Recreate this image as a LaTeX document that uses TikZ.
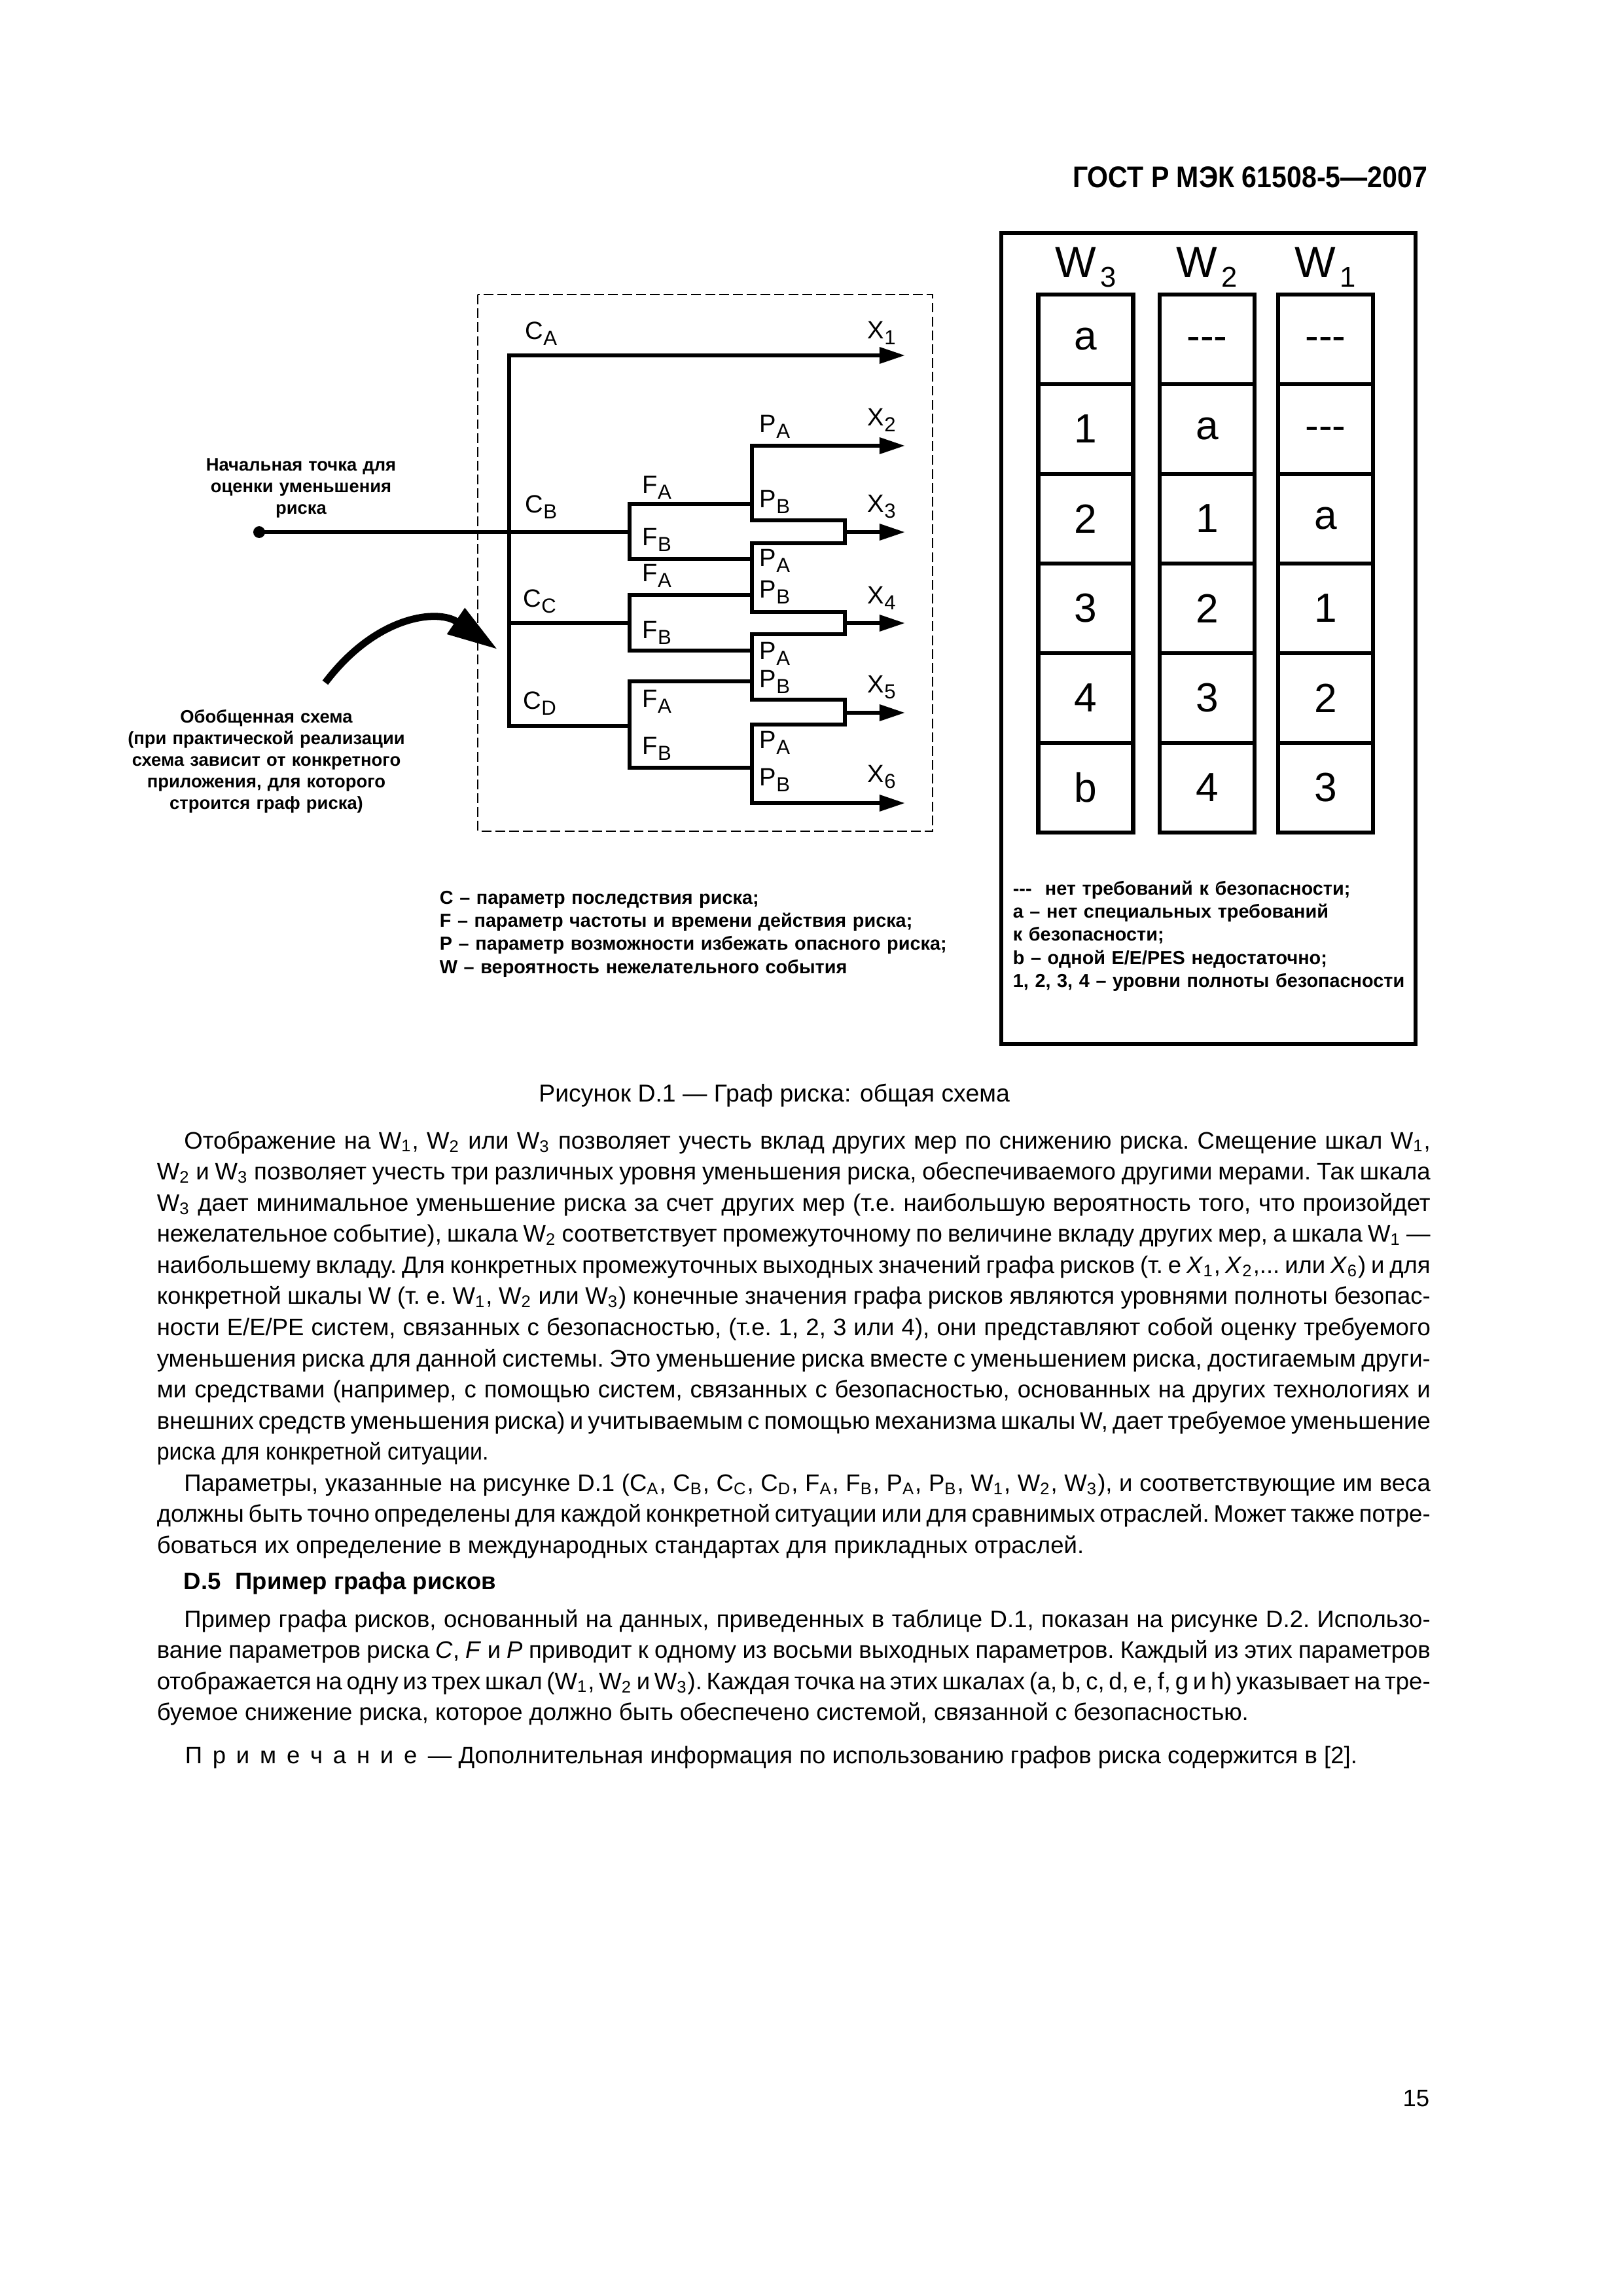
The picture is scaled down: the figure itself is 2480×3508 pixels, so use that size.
\documentclass[tikz,border=0pt]{standalone}
\usepackage{fontspec}
\setmainfont{Liberation Sans}
\newfontfamily\hdrfont{Liberation Sans}[FakeStretch=0.9]
\usetikzlibrary{arrows.meta}
\newcommand\sbs[1]{\textsubscript{#1}}
\newcommand\lb[2]{#1\raisebox{-2.4pt}{\fontsize{7.5}{7.5}\selectfont #2}}
\newcommand\wh[1]{W\hspace{1.5pt}\raisebox{-3.8pt}{\fontsize{10.5}{10.5}\selectfont #1}}
\newcommand\jline[1]{\noindent\hbox to 164.76mm{#1}\par}
\newcommand\nline[1]{\noindent\hbox{#1}\par}
\newcommand\bodyfont{\fontsize{8.8}{11.46}\selectfont\frenchspacing\spaceskip=0.278em plus 0.6em minus 0.12em\xspaceskip=\spaceskip\parskip=0pt\relax}
\newcommand\dsh{\mbox{-}\mbox{-}\mbox{-}}
\newcommand\cdsh{\vphantom{a}\dsh}
\newcommand\lsp{\hspace{3.8pt}}
\tikzset{
  wire/.style={line width=1.5pt},
  outarr/.style={-{Triangle[length=9.4pt,width=5.8pt]}},
  plab/.style={anchor=base west, inner sep=0pt, font=\fontsize{9.2}{9.2}\selectfont},
  cellbox/.style={draw, line width=1.5pt, minimum width=12.28mm, minimum height=11.6mm, inner sep=0pt, font=\fontsize{15}{15}\selectfont},
  whead/.style={anchor=base, inner sep=0pt, font=\fontsize{16}{16}\selectfont},
  annot/.style={anchor=base, inner sep=0pt, align=center, font=\fontsize{6.6}{7.95}\selectfont\bfseries},
  legtext/.style={anchor=base west, inner sep=0pt, align=left, font=\fontsize{6.95}{8.55}\selectfont\bfseries},
  dashbox/.style={line width=0.7pt, dash pattern=on 3.6pt off 1.5pt},
  plain/.style={inner sep=0pt, font=\fontsize{8.8}{8.8}\selectfont}
}
\begin{document}
\begin{tikzpicture}[x=0.0846667mm,y=-0.0846667mm]
\fill[white] (0,0) rectangle (2480,3508);
\useasboundingbox (0,0) rectangle (2480,3508);

% header
\node[anchor=base east, inner sep=0pt, font=\hdrfont\fontsize{11}{11}\selectfont\bfseries] (hdr) at (2182,286) {ГОСТ Р МЭК 61508-5—2007};

% dashed frame
\draw[dashbox] (730,450) rectangle (1425,1270);

% coordinates
\coordinate (busA) at (778,543);
\coordinate (busC) at (778,952);
\coordinate (busD) at (778,1109);
\coordinate (fB) at (962,813);
\coordinate (fBa) at (962,770);
\coordinate (fBb) at (962,854);
\coordinate (fC) at (962,952);
\coordinate (fCa) at (962,909);
\coordinate (fCb) at (962,994);
\coordinate (fD) at (962,1109);
\coordinate (fDa) at (962,1041);
\coordinate (fDb) at (962,1173);
\coordinate (pBa) at (1149,770);
\coordinate (pBb) at (1149,854);
\coordinate (pCa) at (1149,909);
\coordinate (pCb) at (1149,994);
\coordinate (pDa) at (1149,1041);
\coordinate (pDb) at (1149,1173);
\coordinate (x1) at (1383,543);
\coordinate (x2) at (1383,681);
\coordinate (x3) at (1383,813);
\coordinate (x4) at (1383,952);
\coordinate (x5) at (1383,1089);
\coordinate (x6) at (1383,1227);
\coordinate (p2top) at (1149,681);
\coordinate (m3a) at (1149,795);
\coordinate (m3b) at (1291,795);
\coordinate (m3c) at (1291,830);
\coordinate (m3d) at (1149,830);
\coordinate (m4a) at (1149,935);
\coordinate (m4b) at (1291,935);
\coordinate (m4c) at (1291,969);
\coordinate (m4d) at (1149,969);
\coordinate (m5a) at (1149,1069);
\coordinate (m5b) at (1291,1069);
\coordinate (m5c) at (1291,1107);
\coordinate (m5d) at (1149,1107);
\coordinate (p6bot) at (1149,1227);
\coordinate (o3) at (1291,813);
\coordinate (o4) at (1291,952);
\coordinate (o5) at (1291,1089);

% start point
\node[circle, fill, inner sep=0pt, minimum size=1.52mm] (dot) at (396,813) {};

% wires
\draw[wire, outarr] (fD) -- (busD) -- (busA) -- (x1);
\draw[wire] (dot.center) -- (fB);
\draw[wire] (busC) -- (fC);
\draw[wire] (pBa) -- (fBa) -- (fBb) -- (pBb);
\draw[wire] (pCa) -- (fCa) -- (fCb) -- (pCb);
\draw[wire] (pDa) -- (fDa) -- (fDb) -- (pDb);
\draw[wire, {Triangle[length=9.4pt,width=5.8pt]}-{Triangle[length=9.4pt,width=5.8pt]}] (x2) -- (p2top) -- (m3a) -- (m3b) -- (m3c) -- (m3d) -- (m4a) -- (m4b) -- (m4c) -- (m4d) -- (m5a) -- (m5b) -- (m5c) -- (m5d) -- (p6bot) -- (x6);
\draw[wire, outarr] (o3) -- (x3);
\draw[wire, outarr] (o4) -- (x4);
\draw[wire, outarr] (o5) -- (x5);

% labels
\node[plab] (lCA) at (802,518) {\lb{C}{A}};
\node[plab] (lCB) at (802,783) {\lb{C}{B}};
\node[plab] (lCC) at (799,927) {\lb{C}{C}};
\node[plab] (lCD) at (799,1083) {\lb{C}{D}};
\node[plab] (lFAB) at (981,753) {\lb{F}{A}};
\node[plab] (lFBB) at (981,833) {\lb{F}{B}};
\node[plab] (lFAC) at (981,888) {\lb{F}{A}};
\node[plab] (lFBC) at (981,975) {\lb{F}{B}};
\node[plab] (lFAD) at (981,1080) {\lb{F}{A}};
\node[plab] (lFBD) at (981,1152) {\lb{F}{B}};
\node[plab] (lPA1) at (1160,660) {\lb{P}{A}};
\node[plab] (lPB1) at (1160,775) {\lb{P}{B}};
\node[plab] (lPA2) at (1160,865) {\lb{P}{A}};
\node[plab] (lPB2) at (1160,913) {\lb{P}{B}};
\node[plab] (lPA3) at (1160,1007) {\lb{P}{A}};
\node[plab] (lPB3) at (1160,1050) {\lb{P}{B}};
\node[plab] (lPA4) at (1160,1143) {\lb{P}{A}};
\node[plab] (lPB4) at (1160,1200) {\lb{P}{B}};
\node[plab] (lX1) at (1325,517) {\lb{X}{1}};
\node[plab] (lX2) at (1325,650) {\lb{X}{2}};
\node[plab] (lX3) at (1325,782) {\lb{X}{3}};
\node[plab] (lX4) at (1325,922) {\lb{X}{4}};
\node[plab] (lX5) at (1325,1058) {\lb{X}{5}};
\node[plab] (lX6) at (1325,1195) {\lb{X}{6}};

% annotations
\node[annot, text width=40mm] (startlbl) at (460,719) {Начальная точка для\\оценки уменьшения\\риска};
\node[annot, text width=45mm] (genlbl) at (407,1104) {Обобщенная схема\\(при практической реализации\\схема зависит от конкретного\\приложения, для которого\\строится граф риска)};
\coordinate (gstart) at (497,1043);
\coordinate (gend) at (760,992);
\draw[line width=2.6pt, -{Triangle[length=18.5pt,width=11pt]}] (gstart) .. controls (575,940) and (669,930) .. (gend);

% legend left
\node[legtext, text width=90mm] (legL) at (671,1381) {C – параметр последствия риска;\\F – параметр частоты и времени действия риска;\\P – параметр возможности избежать опасного риска;\\W – вероятность нежелательного события};

% W box
\node[draw, line width=1.5pt, anchor=north west, minimum width=53.59mm, minimum height=104.9mm, inner sep=0pt] (wbox) at (1527,353) {};
\node[whead] (hw3) at (1659,423) {\wh{3}};
\node[whead] (hw2) at (1844.5,423) {\wh{2}};
\node[whead] (hw1) at (2025.5,423) {\wh{1}};

\node[cellbox] (a1) at (1659,518.5) {a};
\node[cellbox] (a2) at (1659,655.5) {1};
\node[cellbox] (a3) at (1659,792.5) {2};
\node[cellbox] (a4) at (1659,929.5) {3};
\node[cellbox] (a5) at (1659,1066.5) {4};
\node[cellbox] (a6) at (1659,1203.5) {b};
\node[cellbox] (b1) at (1844.5,518.5) {\cdsh};
\node[cellbox] (b2) at (1844.5,655.5) {a};
\node[cellbox] (b3) at (1844.5,792.5) {1};
\node[cellbox] (b4) at (1844.5,929.5) {2};
\node[cellbox] (b5) at (1844.5,1066.5) {3};
\node[cellbox] (b6) at (1844.5,1203.5) {4};
\node[cellbox] (c1) at (2025.5,518.5) {\cdsh};
\node[cellbox] (c2) at (2025.5,655.5) {\cdsh};
\node[cellbox] (c3) at (2025.5,792.5) {a};
\node[cellbox] (c4) at (2025.5,929.5) {1};
\node[cellbox] (c5) at (2025.5,1066.5) {2};
\node[cellbox] (c6) at (2025.5,1203.5) {3};

\node[legtext, text width=60mm] (legR) at (1547,1367) {\dsh\hspace{0.7em}нет требований к безопасности;\\a – нет специальных требований\\к безопасности;\\b – одной E/E/PES недостаточно;\\1, 2, 3, 4 – уровни полноты безопасности};

% caption
\node[plain, anchor=base, font=\fontsize{9}{9}\selectfont] (cap) at (1183,1683) {Рисунок D.1 — Граф риска: общая схема};

% body
\node[anchor=base west, inner sep=0pt, text width=164.76mm, align=left] (para1) at (239,1755) {\bodyfont
\jline{\hspace*{10pt}Отображение на W\sbs{1}, W\sbs{2} или W\sbs{3} позволяет учесть вклад других мер по снижению риска. Смещение шкал W\sbs{1},}
\jline{W\sbs{2} и W\sbs{3} позволяет учесть три различных уровня уменьшения риска, обеспечиваемого другими мерами. Так шкала}
\jline{W\sbs{3} дает минимальное уменьшение риска за счет других мер (т.е. наибольшую вероятность того, что произойдет}
\jline{нежелательное событие), шкала W\sbs{2} соответствует промежуточному по величине вкладу других мер, а шкала W\sbs{1} —}
\jline{наибольшему вкладу. Для конкретных промежуточных выходных значений графа рисков (т. е \textit{X}\sbs{1}, \textit{X}\sbs{2},... или \textit{X}\sbs{6}) и для}
\jline{конкретной шкалы W (т. е. W\sbs{1}, W\sbs{2} или W\sbs{3}) конечные значения графа рисков являются уровнями полноты безопас-}
\jline{ности E/E/PE систем, связанных с безопасностью, (т.е. 1, 2, 3 или 4), они представляют собой оценку требуемого}
\jline{уменьшения риска для данной системы. Это уменьшение риска вместе с уменьшением риска, достигаемым други-}
\jline{ми средствами (например, с помощью систем, связанных с безопасностью, основанных на других технологиях и}
\jline{внешних средств уменьшения риска) и учитываемым с помощью механизма шкалы W, дает требуемое уменьшение}
\nline{\scalebox{0.93}[1]{риска для конкретной ситуации.}}
\jline{\hspace*{10pt}Параметры, указанные на рисунке D.1 (C\sbs{A}, C\sbs{B}, C\sbs{C}, C\sbs{D}, F\sbs{A}, F\sbs{B}, P\sbs{A}, P\sbs{B}, W\sbs{1}, W\sbs{2}, W\sbs{3}), и соответствующие им веса}
\jline{должны быть точно определены для каждой конкретной ситуации или для сравнимых отраслей. Может также потре-}
\nline{боваться их определение в международных стандартах для прикладных отраслей.}
};

\node[plain, anchor=base west, font=\fontsize{8.8}{8.8}\selectfont\bfseries] (d5) at (280,2428) {D.5\hspace{0.6em}Пример графа рисков};

\node[anchor=base west, inner sep=0pt, text width=164.76mm, align=left] (para3) at (239,2486) {\bodyfont
\jline{\hspace*{10pt}Пример графа рисков, основанный на данных, приведенных в таблице D.1, показан на рисунке D.2. Использо-}
\jline{вание параметров риска \textit{C}, \textit{F} и \textit{P} приводит к одному из восьми выходных параметров. Каждый из этих параметров}
\jline{отображается на одну из трех шкал (W\sbs{1}, W\sbs{2} и W\sbs{3}). Каждая точка на этих шкалах (a, b, c, d, e, f, g и h) указывает на тре-}
\nline{буемое снижение риска, которое должно быть обеспечено системой, связанной с безопасностью.}
};

\node[plain, anchor=base west] (note) at (282,2694) {П\lsp р\lsp и\lsp м\lsp е\lsp ч\lsp а\lsp н\lsp и\lsp е\hspace{0.45em}— Дополнительная информация по использованию графов риска содержится в [2].};

\node[plain, anchor=base east] (pgno) at (2185,3218) {15};
\end{tikzpicture}
\end{document}
